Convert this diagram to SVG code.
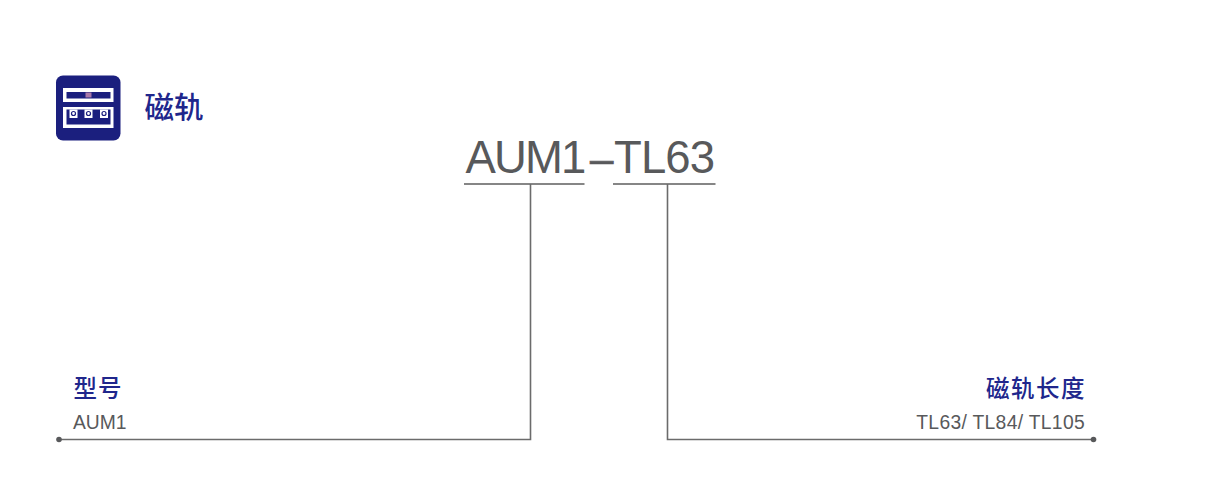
<svg xmlns="http://www.w3.org/2000/svg" width="1229" height="478" viewBox="0 0 1229 478">
<style>
.h{font-family:"Noto Sans CJK SC","Liberation Sans",sans-serif;font-weight:500;fill:#20268c}
.t{font-family:"Liberation Sans",Arial,sans-serif;fill:#58595b}
.l{fill:none;stroke:#6b6b6b;stroke-width:1.6}
.u{fill:none;stroke:#5f5f5f;stroke-width:1.4}
.d{fill:#58595b}
.w{fill:#fff}
.n{fill:#1b1f7e}
.c{fill:none;stroke:#1b1f7e;stroke-width:1.2}
</style>
<rect width="1229" height="478" fill="#fff"/>
<g id="icon">
<rect x="56" y="75.500" width="64.500" height="65" rx="7" fill="#1b1f7e"/>
<rect x="63" y="88" width="50.500" height="14" class="w"/>
<rect x="66.500" y="92" width="44" height="6.500" class="n"/>
<rect x="85.500" y="92.500" width="6" height="5" fill="#a878a8"/>
<rect x="63" y="107" width="50.500" height="21" class="w"/>
<rect x="66.500" y="109.500" width="44" height="15" class="n"/>
<rect x="69.500" y="109.500" width="8" height="8.500" class="w"/>
<rect x="84.500" y="109.500" width="8" height="8.500" class="w"/>
<rect x="100" y="109.500" width="8" height="8.500" class="w"/>
<circle cx="73.500" cy="113.500" r="2" class="c"/>
<circle cx="88.500" cy="113.500" r="2" class="c"/>
<circle cx="104" cy="113.500" r="2" class="c"/>
</g>
<g id="title"><text x="144.500" y="118" class="h" font-size="29.500">磁轨</text></g>
<g id="code">
<text x="465.500" y="173" class="t" font-size="45.500" letter-spacing="-1.900">AUM1</text>
<text x="590" y="172.500" class="t" font-size="42" stroke="#58595b" stroke-width="0.700">–</text>
<text x="614" y="173" class="t" font-size="45.500" letter-spacing="-0.900">TL63</text>
</g>
<g id="model-label">
<text x="73.500" y="397" class="h" font-size="23.500" letter-spacing="1">型号</text>
<text x="73" y="429" class="t" font-size="19.300">AUM1</text>
</g>
<g id="length-label">
<text x="1086" y="397" class="h" font-size="23.500" text-anchor="end" letter-spacing="1.500">磁轨长度</text>
<text x="1085" y="429" class="t" font-size="19.300" text-anchor="end" letter-spacing="0.320">TL63/ TL84/ TL105</text>
</g>
<g id="connectors">
<path class="u" d="M464 184H584.500M613 184H715.500"/>
<path class="l" d="M59 439.500H530.500V184M667.500 184V439.500H1094"/>
<circle class="d" cx="59" cy="439.500" r="2.800"/>
<circle class="d" cx="1093.500" cy="439.500" r="2.800"/>
</g>
</svg>
